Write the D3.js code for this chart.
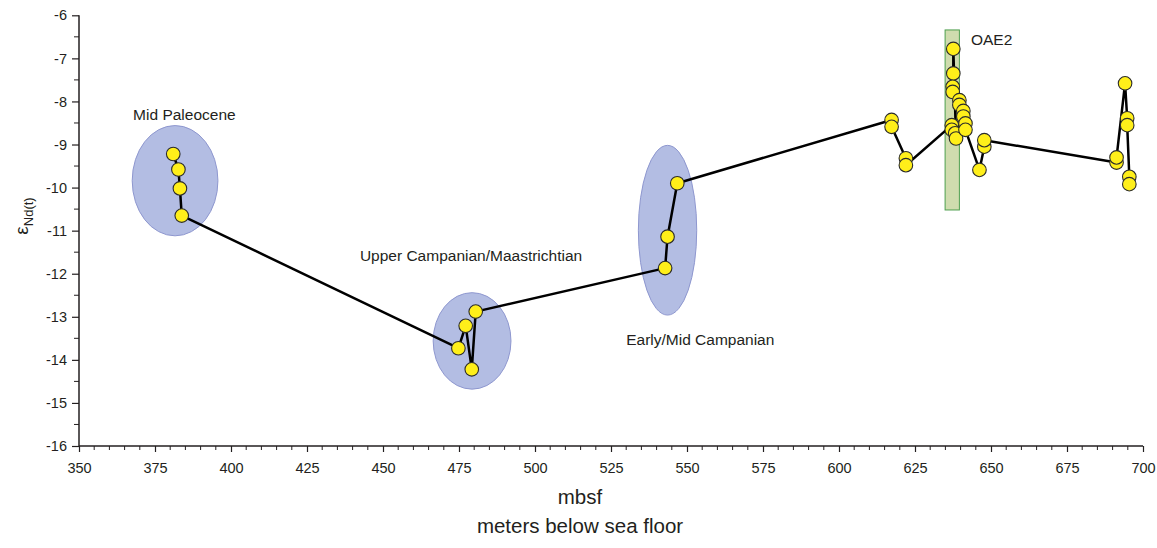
<!DOCTYPE html>
<html>
<head>
<meta charset="utf-8">
<script src="https://cdn.jsdelivr.net/npm/d3@7"></script>
<style>
  body { margin: 0; background: #fff; }
  svg { font-family: "Liberation Sans", Arial, sans-serif; }
</style>
</head>
<body>
<svg id="chart" width="1157" height="548"></svg>
<script>
// samples, in the order the line joins them
const depth = [381.0, 382.7, 383.2, 383.8,
    474.8, 477.2, 479.2, 480.5,
    542.8, 543.6, 546.8,
    617.3, 617.3, 622.0, 622.0,
    637.1, 637.1, 638.2, 638.5,
    637.6, 637.6, 637.4, 637.4, 639.6, 639.6, 640.9, 640.9, 641.6, 641.6,
    646.2, 647.8, 647.8,
    691.3, 691.3, 694.1, 694.8, 694.8, 695.5, 695.5];
const eps = [-9.22, -9.58, -10.02, -10.65,
    -13.73, -13.21, -14.22, -12.88,
    -11.87, -11.14, -9.90,
    -8.43, -8.59, -9.32, -9.48,
    -8.55, -8.66, -8.74, -8.86,
    -6.78, -7.35, -7.66, -7.78, -7.97, -8.08, -8.22, -8.35, -8.51, -8.66,
    -9.59, -9.05, -8.90,
    -9.42, -9.30, -7.58, -8.39, -8.55, -9.75, -9.92];

// age groups (ellipses), in data units
const groupNames = ["Mid Paleocene", "Upper Campanian/Maastrichtian", "Early/Mid Campanian"];
const groupCx = [381.6, 479.3, 543.6];
const groupCy = [-9.84, -13.56, -10.99];
const groupRx = [14.1, 12.8, 9.6];
const groupRy = [1.28, 1.12, 1.97];
const labelX = [367.8, 442.4, 530.0];
const labelY = [-8.31, -11.59, -13.54];

// OAE2 interval
const oae2 = {x0: 634.9, x1: 639.6, y0: -6.34, y1: -10.52, labelX: 643.4, labelY: -6.57};

const xTicks = d3.range(350, 701, 25);
const yTicks = d3.range(-16, -5, 1);

const svg = d3.select("#chart");
const ink = "#231f20";

const x = d3.scaleLinear().domain([350, 700]).range([79, 1143]);
const y = d3.scaleLinear().domain([-16, -6]).range([446, 15.3]);

// ellipses
svg.append("g")
    .selectAll("ellipse")
    .data(groupNames)
    .enter().append("ellipse")
    .attr("cx", (d, i) => x(groupCx[i]))
    .attr("cy", (d, i) => y(groupCy[i]))
    .attr("rx", (d, i) => x(groupCx[i] + groupRx[i]) - x(groupCx[i]))
    .attr("ry", (d, i) => y(groupCy[i]) - y(groupCy[i] + groupRy[i]))
    .attr("fill", "#b3bde3")
    .attr("stroke", "#8e97cf")
    .attr("stroke-width", 1);

svg.append("g")
    .selectAll("text")
    .data(groupNames)
    .enter().append("text")
    .attr("x", (d, i) => x(labelX[i]))
    .attr("y", (d, i) => y(labelY[i]))
    .attr("dy", "0.35em")
    .attr("font-size", 15.5)
    .attr("fill", ink)
    .text(d => d);

// OAE2 bar
svg.append("rect")
    .attr("x", x(oae2.x0))
    .attr("y", y(oae2.y0))
    .attr("width", x(oae2.x1) - x(oae2.x0))
    .attr("height", y(oae2.y1) - y(oae2.y0))
    .attr("fill", "#cfdcae")
    .attr("stroke", "#4e9f4e")
    .attr("stroke-width", 1);
svg.append("text")
    .attr("x", x(oae2.labelX))
    .attr("y", y(oae2.labelY))
    .attr("dy", "0.35em")
    .attr("font-size", 15.5)
    .attr("fill", ink)
    .text("OAE2");

// axes
const xAxis = d3.axisBottom(x).tickValues(xTicks).tickSize(6).tickPadding(11).tickFormat(d => String(d));
const gx = svg.append("g").attr("transform", "translate(0,446)").call(xAxis);
gx.selectAll(".tick line").attr("stroke", ink).attr("stroke-width", 1.2);
gx.select(".domain").attr("stroke", ink).attr("stroke-width", 1.5).attr("d", `M${x(350)},0H${x(700)}`);
gx.selectAll("text").attr("font-size", 14.5).attr("fill", ink).attr("font-family", "Liberation Sans, Arial, sans-serif");
gx.append("g").selectAll("line")
    .data(d3.range(350, 701, 5).filter(v => v % 25 !== 0))
    .enter().append("line")
    .attr("x1", d => x(d)).attr("x2", d => x(d))
    .attr("y1", 0).attr("y2", 4)
    .attr("stroke", ink).attr("stroke-width", 1);

const yAxis = d3.axisLeft(y).tickValues(yTicks).tickSize(7).tickPadding(5).tickFormat(d => String(d));
const gy = svg.append("g").attr("transform", "translate(79,0)").call(yAxis);
gy.selectAll(".tick line").attr("stroke", ink).attr("stroke-width", 1.2);
gy.select(".domain").attr("stroke", ink).attr("stroke-width", 1.5).attr("d", `M0,${y(-6)}V${y(-16)}`);
gy.selectAll("text").attr("font-size", 14.5).attr("fill", ink).attr("font-family", "Liberation Sans, Arial, sans-serif");
gy.append("g").selectAll("line")
    .data(d3.range(-15.5, -6, 1))
    .enter().append("line")
    .attr("x1", 0).attr("x2", -5)
    .attr("y1", d => y(d)).attr("y2", d => y(d))
    .attr("stroke", ink).attr("stroke-width", 1);

// axis titles
svg.append("text")
    .attr("x", 580).attr("y", 504)
    .attr("text-anchor", "middle")
    .attr("font-size", 20.5)
    .attr("fill", ink)
    .text("mbsf");
svg.append("text")
    .attr("x", 580).attr("y", 533)
    .attr("text-anchor", "middle")
    .attr("font-size", 20.5)
    .attr("fill", ink)
    .text("meters below sea floor");

const yt = svg.append("text")
    .attr("transform", "translate(28,216) rotate(-90)")
    .attr("text-anchor", "middle")
    .attr("fill", ink);
yt.append("tspan").attr("font-size", 19).text("ε");
yt.append("tspan").attr("font-size", 13).attr("dy", 5).text("Nd(t)");

// line + points
const pts = depth.map((d, i) => [d, eps[i]]);
svg.append("path")
    .datum(pts)
    .attr("fill", "none")
    .attr("stroke", "#000")
    .attr("stroke-width", 2.5)
    .attr("stroke-linejoin", "round")
    .attr("d", d3.line().x(d => x(d[0])).y(d => y(d[1])));

svg.append("g")
    .selectAll("circle")
    .data(pts)
    .enter().append("circle")
    .attr("cx", d => x(d[0]))
    .attr("cy", d => y(d[1]))
    .attr("r", 6.8)
    .attr("fill", "#ffef1a")
    .attr("stroke", "#2b2b2b")
    .attr("stroke-width", 1.1);
</script>
</body>
</html>
